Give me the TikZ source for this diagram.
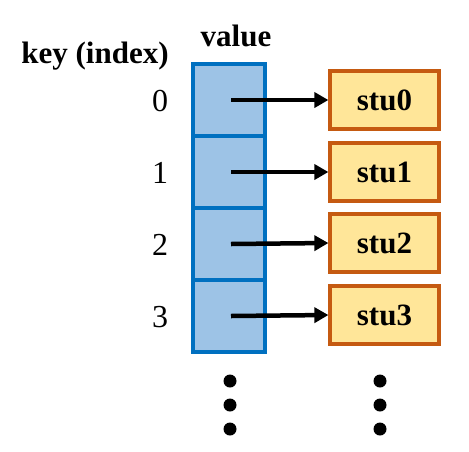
\documentclass[tikz,border=0pt]{standalone}
\usepackage{fontspec}
\setmainfont{Liberation Serif}
\usetikzlibrary{arrows.meta}
\definecolor{cellblue}{HTML}{9DC3E6}
\definecolor{edgeblue}{HTML}{0070C0}
\definecolor{boxfill}{HTML}{FFE699}
\definecolor{boxedge}{HTML}{C55A11}
\begin{document}
\begin{tikzpicture}[x=1pt,y=-1pt,
  cell/.style={draw=edgeblue,fill=cellblue,line width=3.2pt,minimum width=72pt,minimum height=72pt,inner sep=0pt},
  stubox/.style={draw=boxedge,fill=boxfill,line width=3.2pt,minimum width=109pt,minimum height=58pt,inner sep=0pt,font=\fontsize{31}{34}\selectfont\bfseries},
  idx/.style={font=\fontsize{32}{36}\selectfont},
  ptr/.style={line width=4.5pt,-{Triangle[length=14pt,width=15pt]}},
  dot/.style={circle,fill=black,minimum size=13pt,inner sep=0pt}]
\useasboundingbox (0,0) rectangle (469,451);
\node[font=\fontsize{31}{34}\selectfont\bfseries] (keyh) at (95,56) {key (index)};
\node[font=\fontsize{31}{34}\selectfont\bfseries] (valh) at (236,36) {value};
\foreach \i/\y in {0/100,1/172,2/244,3/316}{
  \node[cell] (c\i) at (229,\y) {};
  \node[idx] (k\i) at (160,\y+1) {\i};
  \coordinate (p\i) at (231,\y);
}
\node[stubox] (s0) at (384.5,100) {stu0};
\node[stubox] (s1) at (384.5,172) {stu1};
\node[stubox] (s2) at (384.5,243) {stu2};
\node[stubox] (s3) at (384.5,315) {stu3};
\foreach \i in {0,1,2,3}{\draw[ptr] (p\i) -- (s\i.west);}
\foreach \y/\n in {381/a,405/b,429/c}{
  \node[dot] (l\n) at (230,\y) {};
  \node[dot] (r\n) at (380,\y) {};
}
\end{tikzpicture}
\end{document}
